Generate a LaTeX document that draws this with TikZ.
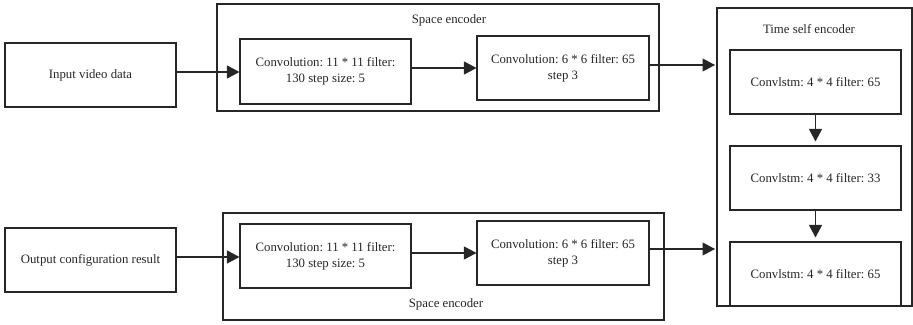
\documentclass[tikz,border=0pt]{standalone}
\usepackage{fontspec}
\setmainfont{Liberation Serif}
\usetikzlibrary{arrows.meta,calc}
\frenchspacing

\begin{document}
\begin{tikzpicture}[x=1pt,y=-1pt,
  every node/.style={font=\fontsize{12.8}{16}\selectfont\frenchspacing, text=black!85, align=center},
  block/.style={draw=black!85, line width=1.1pt, inner sep=0pt, minimum width=171pt, minimum height=64pt},
  frame/.style={draw=black!85, line width=1.1pt, inner sep=0pt},
  link/.style={draw=black!85, line width=1.1pt, -{Triangle[length=12.5pt,width=13pt]}},
  tag/.style={inner sep=0pt}]
\useasboundingbox (0,0) rectangle (913,324);

% outer frames
\node[frame, minimum width=442pt, minimum height=107pt] (encA) at (438,57.5) {};
\node[frame, minimum width=441pt, minimum height=107pt] (encB) at (443.5,266.5) {};
\node[frame, minimum width=195pt, minimum height=298pt] (tenc) at (814.5,157) {};

% frame captions
\node[tag] (capA) at (449,20) {Space encoder};
\node[tag] (capB) at (446,304) {Space encoder};
\node[tag] (capT) at (809,29) {Time self encoder};

% top row
\node[block] (inp) at (90.5,75) {Input video data};
\node[block, minimum height=65pt] (c1a) at (325.5,71.5) {Convolution: 11 * 11 filter:\\130 step size: 5};
\node[block, minimum width=172pt] (c2a) at (563,68) {Convolution: 6 * 6 filter: 65\\step 3};

% bottom row
\node[block] (out) at (90.5,260) {Output configuration result};
\node[block] (c1b) at (325.5,256) {Convolution: 11 * 11 filter:\\130 step size: 5};
\node[block, minimum width=172pt] (c2b) at (563,253) {Convolution: 6 * 6 filter: 65\\step 3};

% recurrent column
\node[block] (l1) at (815.5,82) {Convlstm: 4 * 4 filter: 65};
\node[block] (l2) at (815.5,178) {Convlstm: 4 * 4 filter: 33};
\node[block] (l3) at (815.5,274) {Convlstm: 4 * 4 filter: 65};

% entry points on the time encoder
\coordinate (tinA) at (715,65);
\coordinate (tinB) at (715,249);

% connectors
\draw[link] (inp.east |- 0,72) -- (c1a.west |- 0,72);
\draw[link] (c1a.east |- c2a.west) -- (c2a.west);
\draw[link] (c2a.east |- tinA) -- (tinA);

\draw[link] (out.east |- 0,257) -- (c1b.west |- 0,257);
\draw[link] (c1b.east |- c2b.west) -- (c2b.west);
\draw[link] (c2b.east |- tinB) -- (tinB);

\draw[link, shorten >=4pt] (l1.south) -- (l2.north);
\draw[link, shorten >=4pt] (l2.south) -- (l3.north);
\end{tikzpicture}
\end{document}
